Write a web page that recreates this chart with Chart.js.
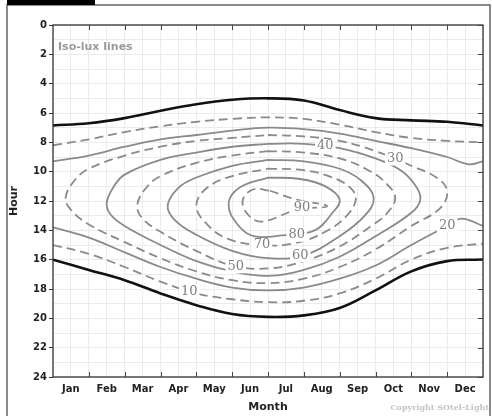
<!DOCTYPE html>
<html>
<head>
<meta charset="utf-8">
<script src="https://cdn.jsdelivr.net/npm/chart.js@4.4.1/dist/chart.umd.min.js"></script>
<style>
  html, body { margin: 0; padding: 0; background: #fff; }
  #wrap { width: 492px; height: 416px; position: relative; }
</style>
</head>
<body>
<div id="wrap"><canvas id="isolux"></canvas></div>
<script>
// axis labels
const months = ["Jan", "Feb", "Mar", "Apr", "May", "Jun", "Jul", "Aug", "Sep", "Oct", "Nov", "Dec"];
const hourTicks = [0, 2, 4, 6, 8, 10, 12, 14, 16, 18, 20, 22, 24];

// [month, hour] pairs
const sunrise = [[0, 6.85], [1, 6.7], [2, 6.35], [3, 5.85], [4, 5.4], [5, 5.1], [6, 5.0], [7, 5.15], [8, 5.8], [9, 6.35], [10, 6.5], [11, 6.6], [12, 6.85]];
const sunset = [[0, 16.0], [1, 16.7], [2, 17.4], [3, 18.3], [4, 19.1], [5, 19.7], [6, 19.9], [7, 19.8], [8, 19.3], [9, 18.1], [10, 16.8], [11, 16.1], [12, 16.0]];

const lux10am = [[0, 8.2], [1, 7.8], [2, 7.3], [3, 6.9], [4, 6.6], [5, 6.4], [6, 6.3], [7, 6.4], [8, 6.8], [9, 7.3], [10, 7.7], [11, 7.9], [12, 8.0]];
const lux10pm = [[0, 15.0], [1, 15.6], [2, 16.5], [3, 17.5], [4, 18.3], [5, 18.7], [6, 18.9], [7, 18.8], [8, 18.3], [9, 17.3], [10, 16.0], [11, 15.2], [12, 14.9]];
const lux20am = [[0, 9.3], [1, 8.9], [2, 8.3], [3, 7.8], [4, 7.5], [5, 7.2], [6, 7.0], [7, 7.1], [8, 7.4], [9, 7.9], [10, 8.4], [11, 9.0], [11.6, 9.5], [12, 9.3]];
const lux20pm = [[0, 13.8], [1, 14.5], [2, 15.5], [3, 16.5], [4, 17.3], [5, 17.9], [6, 18.1], [7, 17.9], [8, 17.3], [9, 16.4], [10, 15.0], [11, 13.7], [11.4, 13.2], [12, 13.7]];
const lux30 = [[6, 7.5], [7, 7.6], [8, 7.9], [9, 8.6], [10, 9.6], [10.7, 10.4], [11.0, 11.3], [10.8, 12.5], [10, 13.7], [9, 15.3], [8, 16.5], [7, 17.3], [6, 17.6], [5, 17.4], [4, 16.8], [3, 15.9], [2, 14.8], [1, 13.6], [0.5, 12.6], [0.35, 11.8], [0.6, 10.6], [1, 9.8], [2, 8.9], [3, 8.3], [4, 7.9], [5, 7.7], [6, 7.5]];
const lux40 = [[6, 8.1], [7, 8.1], [8, 8.4], [9, 9.1], [9.7, 9.9], [10.1, 10.9], [10.25, 11.9], [10.0, 12.8], [9, 14.4], [8, 15.8], [7, 16.7], [6, 17.1], [5, 16.8], [4, 16.1], [3, 15.0], [2, 13.7], [1.6, 12.9], [1.5, 12.1], [1.7, 11.0], [2, 10.2], [3, 9.2], [4, 8.7], [5, 8.3], [6, 8.1]];
const lux50 = [[6, 8.6], [7, 8.7], [8, 9.1], [8.8, 9.9], [9.3, 10.8], [9.55, 11.8], [9.3, 12.9], [9, 13.5], [8, 15.1], [7, 16.1], [6, 16.6], [5, 16.4], [4, 15.4], [3, 14.1], [2.5, 13.2], [2.35, 12.3], [2.6, 11.1], [3, 10.3], [4, 9.4], [5, 8.9], [6, 8.6]];
const lux60 = [[6, 9.2], [7, 9.3], [8, 9.8], [8.6, 10.6], [8.95, 11.8], [8.7, 13.0], [8, 14.4], [7, 15.7], [6, 15.9], [5, 15.4], [4, 14.3], [3.4, 13.3], [3.2, 12.3], [3.5, 11.1], [4, 10.4], [5, 9.6], [6, 9.2]];
const lux70 = [[6, 9.8], [7, 9.9], [7.8, 10.4], [8.3, 11.1], [8.45, 11.9], [8.2, 13.0], [7.6, 14.1], [6.7, 14.9], [5.8, 15.0], [4.9, 14.6], [4.3, 13.6], [4.0, 12.3], [4.3, 11.1], [5, 10.3], [6, 9.8]];
const lux80 = [[6, 10.4], [6.9, 10.5], [7.6, 11.0], [8.0, 11.9], [7.8, 12.8], [7.3, 14.0], [6.4, 14.35], [5.6, 14.4], [5.15, 13.6], [4.9, 12.2], [5.2, 11.1], [6, 10.4]];
const lux90 = [[6.05, 11.3], [6.8, 11.9], [7.65, 12.35], [6.8, 12.6], [5.8, 13.4], [5.4, 12.8], [5.3, 11.9], [5.6, 11.2], [6.05, 11.3]];

// contour labels
const labelText = ["10", "20", "30", "40", "50", "60", "70", "80", "90"];
const labelMonth = [3.8, 11.0, 9.55, 7.6, 5.1, 6.9, 5.83, 6.8, 6.95];
const labelHour = [18.15, 13.65, 9.1, 8.25, 16.45, 15.7, 15.0, 14.3, 12.45];

const toXY = (arr) => arr.map(([x, y]) => ({ x, y }));

const gray = "#8a8a8a";
const solid = (arr) => ({ data: toXY(arr), borderColor: gray, borderWidth: 1.8, tension: 0.4 });
const dashed = (arr) => ({ data: toXY(arr), borderColor: gray, borderWidth: 1.8, borderDash: [9, 5], tension: 0.4 });
const dark = (arr) => ({ data: toXY(arr), borderColor: "#111", borderWidth: 2.6, tension: 0.4 });

const boldFont = { family: "DejaVu Sans", weight: "bold", size: 10 };

// frame, inner ticks and texts
const decorations = {
  id: "decorations",
  beforeDraw(chart) {
    const ctx = chart.ctx;
    ctx.save();
    ctx.fillStyle = "#fff";
    ctx.fillRect(0, 0, chart.width, chart.height);
    ctx.restore();
  },
  afterDatasetsDraw(chart) {
    const ctx = chart.ctx;
    const xs = chart.scales.x;
    const ys = chart.scales.y;
    ctx.save();
    ctx.font = "13px 'DejaVu Serif'";
    ctx.textAlign = "center";
    ctx.textBaseline = "middle";
    labelText.forEach((t, i) => {
      const px = xs.getPixelForValue(labelMonth[i]);
      const py = ys.getPixelForValue(labelHour[i]);
      const w = ctx.measureText(t).width + 4;
      ctx.fillStyle = "#fff";
      ctx.fillRect(px - w / 2, py - 7, w, 14);
      ctx.fillStyle = "#808080";
      ctx.fillText(t, px, py);
    });
    ctx.restore();
  },
  afterDraw(chart) {
    const ctx = chart.ctx;
    const a = chart.chartArea;
    const xs = chart.scales.x;
    const ys = chart.scales.y;
    ctx.save();
    // outer frame
    ctx.strokeStyle = "#666";
    ctx.lineWidth = 1.5;
    ctx.beginPath();
    ctx.moveTo(7, 416);
    ctx.lineTo(7, 5);
    ctx.lineTo(490, 5);
    ctx.lineTo(490, 416);
    ctx.stroke();
    ctx.fillStyle = "#000";
    ctx.fillRect(7, 0, 88, 5);
    // plot frame
    ctx.strokeStyle = "#333";
    ctx.lineWidth = 1.3;
    ctx.strokeRect(a.left, a.top, a.right - a.left, a.bottom - a.top);
    // inner ticks
    ctx.strokeStyle = "#444";
    ctx.lineWidth = 1;
    ctx.beginPath();
    for (let m = 1; m < months.length; m++) {
      const px = Math.round(xs.getPixelForValue(m)) + 0.5;
      ctx.moveTo(px, a.top);
      ctx.lineTo(px, a.top + 5);
      ctx.moveTo(px, a.bottom);
      ctx.lineTo(px, a.bottom - 5);
    }
    hourTicks.forEach((h) => {
      const py = Math.round(ys.getPixelForValue(h)) + 0.5;
      ctx.moveTo(a.right, py);
      ctx.lineTo(a.right - 5, py);
    });
    ctx.stroke();
    // texts
    ctx.fillStyle = "#9a9a9a";
    ctx.font = "bold 11px 'DejaVu Sans'";
    ctx.textBaseline = "alphabetic";
    ctx.fillText("Iso-lux lines", a.left + 5, a.top + 25);
    ctx.fillStyle = "#c4c4c4";
    ctx.font = "bold 8px 'DejaVu Serif'";
    ctx.textAlign = "right";
    ctx.fillText("Copyright SOtel-Light", 489, 410);
    ctx.restore();
  },
};

const isoCanvas = document.getElementById("isolux");
new Chart(isoCanvas.getContext("2d"), {
  type: "scatter",
  data: {
    datasets: [
      dark(sunrise),
      dark(sunset),
      dashed(lux10am),
      dashed(lux10pm),
      solid(lux20am),
      solid(lux20pm),
      dashed(lux30),
      solid(lux40),
      dashed(lux50),
      solid(lux60),
      dashed(lux70),
      solid(lux80),
      dashed(lux90),
    ].map((d) => ({ ...d, showLine: true, pointRadius: 0, pointHoverRadius: 0, fill: false })),
  },
  options: {
    responsive: true,
    maintainAspectRatio: false,
    animation: false,
    events: [],
    layout: { padding: { left: 8, right: 9, top: 25, bottom: 2 } },
    plugins: { legend: { display: false }, tooltip: { enabled: false } },
    scales: {
      x: {
        type: "linear",
        min: 0,
        max: 12,
        afterFit: (scale) => { scale.height = 37; },
        border: { display: false },
        grid: { color: "#ebebeb", lineWidth: 1, drawTicks: false },
        ticks: {
          stepSize: 0.5,
          autoSkip: false,
          maxRotation: 0,
          padding: 6,
          color: "#222",
          font: boldFont,
          callback: (v) => (Number.isInteger(v) ? "" : months[Math.floor(v)]),
        },
        title: { display: true, text: "Month", color: "#222", font: { ...boldFont, size: 11 }, padding: { top: 0, bottom: 0 } },
      },
      y: {
        type: "linear",
        reverse: true,
        min: 0,
        max: 24,
        afterFit: (scale) => { scale.width = 45; },
        border: { display: false },
        grid: {
          color: "#ebebeb",
          lineWidth: 1,
          tickLength: 4,
          tickColor: (c) => (c.tick && hourTicks.includes(c.tick.value) ? "#333" : "rgba(0,0,0,0)"),
        },
        ticks: {
          stepSize: 1,
          autoSkip: false,
          padding: 2,
          color: "#222",
          font: boldFont,
          callback: (v) => (hourTicks.includes(v) ? v : ""),
        },
        title: { display: true, text: "Hour", color: "#222", font: { ...boldFont, size: 11 }, padding: { top: 0, bottom: 4 } },
      },
    },
  },
  plugins: [decorations],
});
</script>
</body>
</html>
